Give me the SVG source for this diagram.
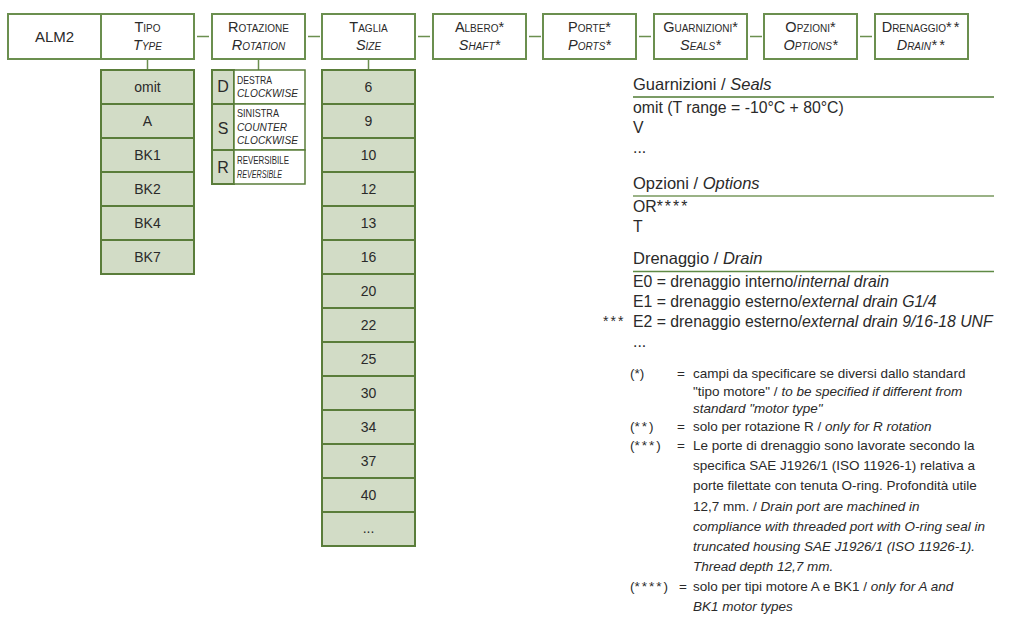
<svg xmlns="http://www.w3.org/2000/svg" width="1009" height="631" viewBox="0 0 1009 631">
<style>
text{font-family:"Liberation Sans",Arial,sans-serif;fill:#2a2a2a}
.hb{fill:#fff;stroke:#6b8f4f;stroke-width:2}
.cell{fill:#d2dcc6;stroke:#5a7d3a;stroke-width:2}
.wcell{fill:#fff;stroke:#5a7d3a;stroke-width:1.5}
.conn{stroke:#6b8f4f;stroke-width:1.5;fill:none}
.hd{font-size:14.5px;font-variant:small-caps;text-anchor:middle}
.hdi{font-size:14.5px;font-variant:small-caps;text-anchor:middle;font-style:italic}
.cv{font-size:14px;text-anchor:middle}
.rl{font-size:16px;text-anchor:middle}
.rs{font-size:10.5px}
.head{font-size:16.5px}
.body{font-size:15.8px}
.note{font-size:13.5px}
.ast{letter-spacing:2px}
.it{font-style:italic}
</style>

<g id="connectors">
<line class="conn" x1="197" y1="36.5" x2="209" y2="36.5"/>
<line class="conn" x1="308" y1="36.5" x2="320" y2="36.5"/>
<line class="conn" x1="418" y1="36.5" x2="430" y2="36.5"/>
<line class="conn" x1="529" y1="36.5" x2="541" y2="36.5"/>
<line class="conn" x1="639" y1="36.5" x2="651" y2="36.5"/>
<line class="conn" x1="750" y1="36.5" x2="762" y2="36.5"/>
<line class="conn" x1="860" y1="36.5" x2="872" y2="36.5"/>
<line class="conn" x1="147.5" y1="59" x2="147.5" y2="70"/>
<line class="conn" x1="258.5" y1="59" x2="258.5" y2="70"/>
<line class="conn" x1="368.5" y1="59" x2="368.5" y2="70"/>
</g>

<g id="alm2">
<rect class="hb" x="8" y="14" width="93" height="45"/>
<text x="54.5" y="42" style="font-size:15px;text-anchor:middle">ALM2</text>
</g>
<g id="tipo">
<rect class="hb" x="101" y="14" width="93" height="45"/>
<text class="hd" x="147.5" y="32">Tipo</text>
<text class="hdi" x="147.5" y="50">Type</text>
</g>
<g id="rotazione">
<rect class="hb" x="212" y="14" width="93" height="45"/>
<text class="hd" x="258.5" y="32">Rotazione</text>
<text class="hdi" x="258.5" y="50">Rotation</text>
</g>
<g id="taglia">
<rect class="hb" x="322" y="14" width="93" height="45"/>
<text class="hd" x="368.5" y="32">Taglia</text>
<text class="hdi" x="368.5" y="50">Size</text>
</g>
<g id="albero">
<rect class="hb" x="433" y="14" width="93" height="45"/>
<text class="hd" x="479.5" y="32">Albero*</text>
<text class="hdi" x="479.5" y="50">Shaft*</text>
</g>
<g id="porte">
<rect class="hb" x="543" y="14" width="93" height="45"/>
<text class="hd" x="589.5" y="32">Porte*</text>
<text class="hdi" x="589.5" y="50">Ports*</text>
</g>
<g id="guarnizioni">
<rect class="hb" x="654" y="14" width="93" height="45"/>
<text class="hd" x="700.5" y="32">Guarnizioni*</text>
<text class="hdi" x="700.5" y="50">Seals*</text>
</g>
<g id="opzioni">
<rect class="hb" x="764" y="14" width="93" height="45"/>
<text class="hd" x="810.5" y="32">Opzioni*</text>
<text class="hdi" x="810.5" y="50">Options*</text>
</g>
<g id="drenaggio">
<rect class="hb" x="875" y="14" width="93" height="45"/>
<text class="hd" x="921.5" y="32">Drenaggio<tspan class="ast">**</tspan></text>
<text class="hdi" x="921.5" y="50">Drain<tspan class="ast">**</tspan></text>
</g>

<g id="tipo-values">
<rect class="cell" x="101" y="70" width="93" height="34"/><text class="cv" x="147.5" y="92">omit</text>
<rect class="cell" x="101" y="104" width="93" height="34"/><text class="cv" x="147.5" y="126">A</text>
<rect class="cell" x="101" y="138" width="93" height="34"/><text class="cv" x="147.5" y="160">BK1</text>
<rect class="cell" x="101" y="172" width="93" height="34"/><text class="cv" x="147.5" y="194">BK2</text>
<rect class="cell" x="101" y="206" width="93" height="34"/><text class="cv" x="147.5" y="228">BK4</text>
<rect class="cell" x="101" y="240" width="93" height="34"/><text class="cv" x="147.5" y="262">BK7</text>
</g>

<g id="rotazione-values">
<rect class="cell" x="212" y="70" width="22" height="34"/>
<rect class="wcell" x="234" y="70" width="71" height="34"/>
<text class="rl" x="223" y="92">D</text>
<text class="rs" x="237" y="84" textLength="35" lengthAdjust="spacingAndGlyphs">DESTRA</text>
<text class="rs it" x="237" y="97" textLength="61" lengthAdjust="spacingAndGlyphs">CLOCKWISE</text>
<rect class="cell" x="212" y="104" width="22" height="46"/>
<rect class="wcell" x="234" y="104" width="71" height="46"/>
<text class="rl" x="223" y="134">S</text>
<text class="rs" x="237" y="117" textLength="42" lengthAdjust="spacingAndGlyphs">SINISTRA</text>
<text class="rs it" x="237" y="131" textLength="50" lengthAdjust="spacingAndGlyphs">COUNTER</text>
<text class="rs it" x="237" y="144" textLength="61" lengthAdjust="spacingAndGlyphs">CLOCKWISE</text>
<rect class="cell" x="212" y="150" width="22" height="34"/>
<rect class="wcell" x="234" y="150" width="71" height="34"/>
<text class="rl" x="223" y="173">R</text>
<text class="rs" x="237" y="164" textLength="52" lengthAdjust="spacingAndGlyphs">REVERSIBILE</text>
<text class="rs it" x="237" y="178" textLength="45" lengthAdjust="spacingAndGlyphs">REVERSIBLE</text>
</g>

<g id="taglia-values">
<rect class="cell" x="322" y="70" width="93" height="34"/><text class="cv" x="368.5" y="92">6</text>
<rect class="cell" x="322" y="104" width="93" height="34"/><text class="cv" x="368.5" y="126">9</text>
<rect class="cell" x="322" y="138" width="93" height="34"/><text class="cv" x="368.5" y="160">10</text>
<rect class="cell" x="322" y="172" width="93" height="34"/><text class="cv" x="368.5" y="194">12</text>
<rect class="cell" x="322" y="206" width="93" height="34"/><text class="cv" x="368.5" y="228">13</text>
<rect class="cell" x="322" y="240" width="93" height="34"/><text class="cv" x="368.5" y="262">16</text>
<rect class="cell" x="322" y="274" width="93" height="34"/><text class="cv" x="368.5" y="296">20</text>
<rect class="cell" x="322" y="308" width="93" height="34"/><text class="cv" x="368.5" y="330">22</text>
<rect class="cell" x="322" y="342" width="93" height="34"/><text class="cv" x="368.5" y="364">25</text>
<rect class="cell" x="322" y="376" width="93" height="34"/><text class="cv" x="368.5" y="398">30</text>
<rect class="cell" x="322" y="410" width="93" height="34"/><text class="cv" x="368.5" y="432">34</text>
<rect class="cell" x="322" y="444" width="93" height="34"/><text class="cv" x="368.5" y="466">37</text>
<rect class="cell" x="322" y="478" width="93" height="34"/><text class="cv" x="368.5" y="500">40</text>
<rect class="cell" x="322" y="512" width="93" height="34"/><text class="cv" x="368.5" y="533">...</text>
</g>

<g id="legend-seals">
<text class="head" x="633" y="90">Guarnizioni / <tspan class="it">Seals</tspan></text>
<line x1="633" y1="97" x2="994" y2="97" stroke="#4f7a33" stroke-width="1.5"/>
<text class="body" x="633" y="113">omit (T range = -10°C + 80°C)</text>
<text class="body" x="633" y="133">V</text>
<text class="body" x="633" y="153">...</text>
</g>
<g id="legend-options">
<text class="head" x="633" y="189">Opzioni / <tspan class="it">Options</tspan></text>
<line x1="633" y1="196" x2="994" y2="196" stroke="#9ab286" stroke-width="2"/>
<text class="body" x="633" y="212">OR<tspan class="ast">****</tspan></text>
<text class="body" x="633" y="232">T</text>
</g>
<g id="legend-drain">
<text class="head" x="633" y="264">Drenaggio / <tspan class="it">Drain</tspan></text>
<line x1="633" y1="271.5" x2="994" y2="271.5" stroke="#5f8a45" stroke-width="1.5"/>
<text class="body" x="633" y="287">E0 = drenaggio interno/<tspan class="it">internal drain</tspan></text>
<text class="body" x="633" y="307">E1 = drenaggio esterno/<tspan class="it">external drain G1/4</tspan></text>
<text class="ast" x="603" y="326" style="font-size:14px">***</text>
<text class="body" x="633" y="327">E2 = drenaggio esterno/<tspan class="it">external drain 9/16-18 UNF</tspan></text>
<text class="body" x="633" y="347">...</text>
</g>
<g id="notes">
<text class="note" x="630" y="378">(*)</text><text class="note" x="677" y="378">=</text>
<text class="note" x="693" y="378">campi da specificare se diversi dallo standard</text>
<text class="note" x="693" y="396">"tipo motore" / <tspan class="it">to be specified if different from</tspan></text>
<text class="note it" x="693" y="413">standard "motor type"</text>
<text class="note" x="630" y="431">(<tspan class="ast">**</tspan>)</text><text class="note" x="677" y="431">=</text>
<text class="note" x="693" y="431">solo per rotazione R / <tspan class="it">only for R rotation</tspan></text>
<text class="note" x="630" y="450">(<tspan class="ast">***</tspan>)</text><text class="note" x="677" y="450">=</text>
<text class="note" x="693" y="450">Le porte di drenaggio sono lavorate secondo la</text>
<text class="note" x="693" y="470">specifica SAE J1926/1 (ISO 11926-1) relativa a</text>
<text class="note" x="693" y="490">porte filettate con tenuta O-ring. Profondità utile</text>
<text class="note" x="693" y="511">12,7 mm. / <tspan class="it">Drain port are machined in</tspan></text>
<text class="note it" x="693" y="531">compliance with threaded port with O-ring seal in</text>
<text class="note it" x="693" y="551">truncated housing SAE J1926/1 (ISO 11926-1).</text>
<text class="note it" x="693" y="571">Thread depth 12,7 mm.</text>
<text class="note" x="630" y="591">(<tspan class="ast">****</tspan>)</text><text class="note" x="679" y="591">=</text>
<text class="note" x="693" y="591">solo per tipi motore A e BK1 / <tspan class="it">only for A and</tspan></text>
<text class="note it" x="693" y="611">BK1 motor types</text>
</g>
</svg>
